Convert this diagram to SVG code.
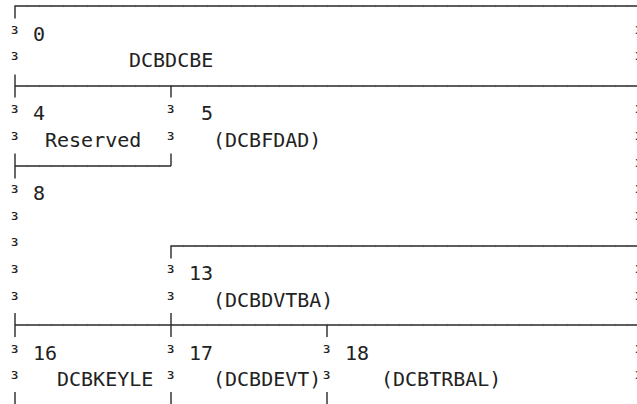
<svg xmlns="http://www.w3.org/2000/svg" width="637" height="404" viewBox="0 0 637 404">
<style>
  text { font-family: "DejaVu Sans Mono", "Liberation Mono", monospace; font-size: 20px; fill: #222; }
  .b { font-size: 22px; }
  .ln { stroke: #2a2a2a; stroke-width: 1.4; fill: none; stroke-linecap: butt; }
  .tk { stroke: #d2d2d2; stroke-width: 2.6; stroke-dasharray: 1 11; fill: none; }
</style>
<rect width="637" height="404" fill="#ffffff"/>
<g id="connectors">
  <line class="tk" x1="27" y1="6" x2="637" y2="6"/>
  <line class="tk" x1="27" y1="86" x2="637" y2="86"/>
  <line class="tk" x1="27" y1="166" x2="171" y2="166"/>
  <line class="tk" x1="183" y1="246" x2="637" y2="246"/>
  <line class="tk" x1="27" y1="325" x2="637" y2="325"/>
  <path class="ln" d="M15 18.5 V6 H637"/>
  <path class="ln" d="M15 74.5 V97.5 M15 86 H637 M171 86 V97.5"/>
  <path class="ln" d="M15 153.5 V178.5 M15 166 H171 M171 153.5 V166"/>
  <path class="ln" d="M171 258.5 V246 H637"/>
  <path class="ln" d="M15 313 V337 M171 313 V337 M327 325 V337 M15 325 H637"/>
  <path class="ln" d="M15 392 V404 M171 392 V404 M327 392 V404"/>
</g>
<g id="bars" class="b">
  <text x="8.4" y="40.6">³</text><text x="632.4" y="40.6">³</text>
  <text x="8.4" y="67.2">³</text><text x="632.4" y="67.2">³</text>
  <text x="8.4" y="120.4">³</text><text x="164.4" y="120.4">³</text><text x="632.4" y="120.4">³</text>
  <text x="8.4" y="147">³</text><text x="164.4" y="147">³</text><text x="632.4" y="147">³</text>
  <text x="632.4" y="173.6">³</text>
  <text x="8.4" y="200.2">³</text><text x="632.4" y="200.2">³</text>
  <text x="8.4" y="226.8">³</text><text x="632.4" y="226.8">³</text>
  <text x="8.4" y="253.4">³</text>
  <text x="8.4" y="280">³</text><text x="164.4" y="280">³</text><text x="632.4" y="280">³</text>
  <text x="8.4" y="306.6">³</text><text x="164.4" y="306.6">³</text><text x="632.4" y="306.6">³</text>
  <text x="8.4" y="359.8">³</text><text x="164.4" y="359.8">³</text><text x="320.4" y="359.8">³</text><text x="632.4" y="359.8">³</text>
  <text x="8.4" y="386.4">³</text><text x="164.4" y="386.4">³</text><text x="320.4" y="386.4">³</text><text x="632.4" y="386.4">³</text>
</g>
<g id="field-0">
  <text x="33" y="40.6">0</text>
  <text x="129" y="67.2">DCBDCBE</text>
</g>
<g id="field-4">
  <text x="33" y="120.4">4</text>
  <text x="45" y="147">Reserved</text>
</g>
<g id="field-5">
  <text x="201" y="120.4">5</text>
  <text x="213" y="147">(DCBFDAD)</text>
</g>
<g id="field-8">
  <text x="33" y="200.2">8</text>
</g>
<g id="field-13">
  <text x="189" y="280">13</text>
  <text x="213" y="306.6">(DCBDVTBA)</text>
</g>
<g id="field-16">
  <text x="33" y="359.8">16</text>
  <text x="57" y="386.4">DCBKEYLE</text>
</g>
<g id="field-17">
  <text x="189" y="359.8">17</text>
  <text x="213" y="386.4">(DCBDEVT)</text>
</g>
<g id="field-18">
  <text x="345" y="359.8">18</text>
  <text x="381" y="386.4">(DCBTRBAL)</text>
</g>
</svg>
